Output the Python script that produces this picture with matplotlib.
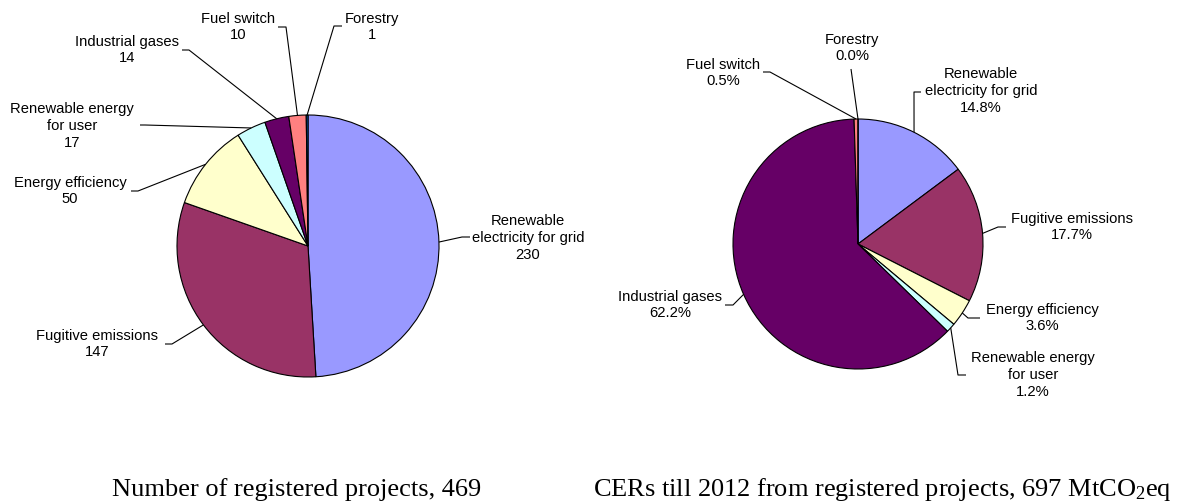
import numpy as np
import matplotlib
matplotlib.use("Agg")
import matplotlib.pyplot as plt

# ---------------- data ----------------
categories = ["Renewable\nelectricity for grid", "Fugitive emissions", "Energy efficiency",
              "Renewable energy\nfor user", "Industrial gases", "Fuel switch", "Forestry"]
projects = [230, 147, 50, 17, 14, 10, 1]
cers_pct = [14.8, 17.7, 3.6, 1.2, 62.2, 0.5, 0.0]
colors = ["#9999FF", "#993366", "#FFFFCC", "#CCFFFF", "#660066", "#FF8080", "#0066CC"]
title_left = "Number of registered projects, 469"
title_right = r"CERs till 2012 from registered projects, 697 MtCO$_2$eq"

W, H = 1182, 504
plt.rcParams['mathtext.fontset'] = 'custom'
plt.rcParams['mathtext.rm'] = 'Liberation Serif'
plt.rcParams['mathtext.it'] = 'Liberation Serif:italic'

fig = plt.figure(figsize=(W / 100, H / 100), dpi=100)
ax = fig.add_axes([0, 0, 1, 1])
ax.set_xlim(0, W)
ax.set_ylim(0, H)
ax.set_aspect('equal')
ax.axis('off')

def Y(y):
    return H - y

LFONT = dict(family="Liberation Sans", fontsize=10.6, color="black",
             ha="center", va="center", linespacing=1.25)

def draw_pie(values, center, radius, label_texts, layouts):
    cx, cy = center
    wedges, _ = ax.pie(values, colors=colors, startangle=90, counterclock=False,
                       center=(cx, Y(cy)), radius=radius,
                       wedgeprops=dict(edgecolor="black", linewidth=0.8),
                       frame=True)
    total = float(sum(values))
    cum = 0.0
    for v, txt, lay in zip(values, label_texts, layouts):
        mid = cum + v / 2.0
        cum += v
        ang = np.deg2rad(90 - 360.0 * mid / total)
        ex = cx + radius * np.cos(ang)
        ey = cy - radius * np.sin(ang)
        (lx, ly), pts = lay
        xs = [ex] + [p[0] for p in pts]
        ys = [Y(ey)] + [Y(p[1]) for p in pts]
        ax.plot(xs, ys, color="black", lw=0.8, solid_capstyle="butt")
        ax.text(lx, Y(ly), txt, **LFONT)

# left pie
left_texts = [f"{c}\n{v}" for c, v in zip(categories, projects)]
left_layout = [
    ((528, 238), [(462, 237), (470, 237)]),
    ((97, 344), [(172, 344), (165, 344)]),
    ((70, 191), [(138, 191), (131, 191)]),
    ((72, 126), [(145, 125), (140, 125)]),
    ((127, 50), [(189, 50), (182, 50)]),
    ((238, 27), [(286, 27), (278, 27)]),
    ((372, 27), [(334, 26), (342, 26)]),
]
draw_pie(projects, (308, 246), 131, left_texts, left_layout)

# right pie
right_texts = [f"{c}\n{v:.1f}%" for c, v in zip(categories, cers_pct)]
right_layout = [
    ((981, 91), [(914, 92), (921, 92)]),
    ((1072, 227), [(998, 227), (1006, 227)]),
    ((1042, 318), [(968, 318), (980, 318)]),
    ((1033, 375), [(958, 375), (966, 375)]),
    ((670, 305), [(733, 305), (725, 305)]),
    ((723, 73), [(770, 72), (763, 72)]),
    ((852, 48), [(851, 69), (851, 69)]),
]
draw_pie(cers_pct, (858, 244), 125, right_texts, right_layout)

ax.set_xlim(0, W)
ax.set_ylim(0, H)
ax.axis('off')

TFONT = dict(family="Liberation Serif", fontsize=19, color="black", ha="center", va="baseline")
ax.text(297, Y(496), title_left, **TFONT)
ax.text(882, Y(496), title_right, **TFONT)

fig.savefig("out.png", dpi=100)
